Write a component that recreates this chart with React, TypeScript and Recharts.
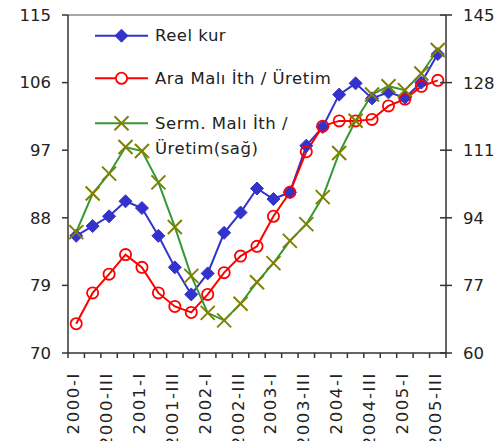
import React from 'react';
import { LineChart, Line, XAxis, YAxis, ReferenceLine } from 'recharts';

// Quarterly periods
const quarters = [
  '2000-I', '2000-II', '2000-III', '2000-IV',
  '2001-I', '2001-II', '2001-III', '2001-IV',
  '2002-I', '2002-II', '2002-III', '2002-IV',
  '2003-I', '2003-II', '2003-III', '2003-IV',
  '2004-I', '2004-II', '2004-III', '2004-IV',
  '2005-I', '2005-II', '2005-III',
];

// Series values (left axis)
const reelKur = [85.6, 86.9, 88.2, 90.2, 89.3, 85.6, 81.4, 77.8, 80.6, 86.0, 88.7, 91.9, 90.5, 91.4, 97.6, 100.1, 104.4, 105.9, 103.9, 104.7, 104.0, 106.0, 109.8];
const araMali = [73.9, 78.0, 80.5, 83.1, 81.4, 78.0, 76.2, 75.4, 77.8, 80.7, 82.9, 84.2, 88.2, 91.4, 96.8, 100.2, 100.9, 100.9, 101.1, 102.9, 103.8, 105.5, 106.3];
// Right axis series
const sermMali = [90.4, 100.1, 105.1, 111.8, 110.8, 102.9, 91.7, 79.4, 70.1, 68.2, 72.4, 77.8, 82.6, 88.2, 92.4, 99.2, 110.3, 118.4, 125.0, 127.1, 126.1, 130.3, 136.2];

const leftTicks = [70, 79, 88, 97, 106, 115];
const rightTicks = [60, 77, 94, 111, 128, 145];

const legendLabels = ['Reel kur', 'Ara Malı İth / Üretim', 'Serm. Malı İth /', 'Üretim(sağ)'];

const data = quarters.map((q, i) => ({
  q,
  reel: reelKur[i],
  ara: araMali[i],
  serm: sermMali[i],
}));

const FONT = '"DejaVu Sans", sans-serif';
const TEXT = '#222';
const AXIS = '#333';
const BLUE = '#3333CC';
const RED = '#FF0000';
const GREEN = '#339933';
const OLIVE = '#808000';

const X_TICK_SIZE = 5;
const X_TICK_MARGIN = 14;
const Y_TICK_SIZE = 6;
const Y_TICK_MARGIN = 11;

const Diamond = ({ cx, cy, s = 6.5 }: { cx: number; cy: number; s?: number }) => (
  <path d={`M${cx},${cy - s} L${cx + s},${cy} L${cx},${cy + s} L${cx - s},${cy} Z`} fill={BLUE} stroke={BLUE} strokeWidth={1} />
);

const Ring = ({ cx, cy }: { cx: number; cy: number }) => (
  <circle cx={cx} cy={cy} r={5.6} fill="none" stroke={RED} strokeWidth={1.8} />
);

const Cross = ({ cx, cy, s = 7 }: { cx: number; cy: number; s?: number }) => (
  <g stroke={OLIVE} strokeWidth={2}>
    <line x1={cx - s} y1={cy - s} x2={cx + s} y2={cy + s} />
    <line x1={cx - s} y1={cy + s} x2={cx + s} y2={cy - s} />
  </g>
);

const renderDiamond = (p: any) => <Diamond key={`d-${p.index}`} cx={p.cx} cy={p.cy} />;
const renderRing = (p: any) => <Ring key={`r-${p.index}`} cx={p.cx} cy={p.cy} />;
const renderCross = (p: any) => <Cross key={`c-${p.index}`} cx={p.cx} cy={p.cy} />;

const XTick = (props: any) => {
  const { x, y, payload, index } = props;
  const axisY = y - X_TICK_SIZE - X_TICK_MARGIN;
  const half = payload && typeof payload.offset === 'number' && payload.offset > 0 ? payload.offset : 378 / quarters.length / 2;
  const idx = typeof index === 'number' ? index : payload.index;
  return (
    <g>
      <line x1={x - half} y1={axisY} x2={x - half} y2={axisY + X_TICK_SIZE} stroke={AXIS} strokeWidth={1.5} />
      {idx === quarters.length - 1 && (
        <line x1={x + half} y1={axisY} x2={x + half} y2={axisY + X_TICK_SIZE} stroke={AXIS} strokeWidth={1.5} />
      )}
      {idx % 2 === 0 && (
        <text
          transform={`translate(${x + 3},${y}) rotate(-90)`}
          textAnchor="end"
          fontFamily={FONT}
          fontSize={16.5}
          letterSpacing={1.6}
          fill={TEXT}
        >
          {payload.value}
        </text>
      )}
    </g>
  );
};

const RightTick = (props: any) => {
  const { x, y, payload } = props;
  const axisX = x - Y_TICK_SIZE - Y_TICK_MARGIN;
  return (
    <g>
      <line x1={axisX - 6} y1={y} x2={axisX + 6} y2={y} stroke={AXIS} strokeWidth={1.5} />
      <text x={x} y={y} dy="0.36em" textAnchor="start" fontFamily={FONT} fontSize={16.5} fill={TEXT}>
        {payload.value}
      </text>
    </g>
  );
};

const LegendOverlay = () => {
  const rows = [35.7, 78.3, 123.3];
  return (
    <svg width={502} height={441} style={{ position: 'absolute', left: 0, top: 0, pointerEvents: 'none' }}>
      <g fontFamily={FONT} fontSize={16.5} fill={TEXT} letterSpacing={0.5}>
        <line x1={95} y1={rows[0]} x2={148} y2={rows[0]} stroke={BLUE} strokeWidth={2} />
        <Diamond cx={121.5} cy={rows[0]} />
        <text x={155} y={41}>{legendLabels[0]}</text>

        <line x1={95} y1={rows[1]} x2={148} y2={rows[1]} stroke={RED} strokeWidth={2} />
        <circle cx={121.5} cy={rows[1]} r={5.6} fill="#fff" stroke={RED} strokeWidth={1.8} />
        <text x={155} y={84.3}>{legendLabels[1]}</text>

        <line x1={95} y1={rows[2]} x2={148} y2={rows[2]} stroke={GREEN} strokeWidth={2} />
        <Cross cx={121.5} cy={rows[2]} />
        <text x={155} y={128.5}>{legendLabels[2]}</text>
        <text x={155} y={154}>{legendLabels[3]}</text>
      </g>
    </svg>
  );
};

export default function App() {
  return (
    <div style={{ position: 'absolute', left: 0, top: 0, width: 502, height: 441, background: '#fff' }}>
      <LineChart width={502} height={441} data={data} margin={{ top: 15, right: 0, bottom: 0, left: 0 }}>
        <XAxis
          dataKey="q"
          scale="band"
          interval={0}
          height={88}
          tickLine={false}
          tickSize={X_TICK_SIZE}
          tickMargin={X_TICK_MARGIN}
          axisLine={{ stroke: AXIS, strokeWidth: 1.5 }}
          tick={<XTick />}
        />
        <YAxis
          yAxisId="left"
          orientation="left"
          width={68}
          domain={[70, 115]}
          ticks={leftTicks}
          interval={0}
          tickSize={Y_TICK_SIZE}
          tickMargin={Y_TICK_MARGIN}
          tickLine={{ stroke: AXIS, strokeWidth: 1.5 }}
          axisLine={{ stroke: AXIS, strokeWidth: 1.5 }}
          tick={{ fontFamily: FONT, fontSize: 16.5, fill: TEXT }}
        />
        <YAxis
          yAxisId="right"
          orientation="right"
          width={56}
          domain={[60, 145]}
          ticks={rightTicks}
          interval={0}
          tickSize={Y_TICK_SIZE}
          tickMargin={Y_TICK_MARGIN}
          tickLine={false}
          axisLine={{ stroke: AXIS, strokeWidth: 1.5 }}
          tick={<RightTick />}
        />
        <ReferenceLine yAxisId="left" y={115} stroke="#888" strokeWidth={1.5} />
        <Line yAxisId="left" dataKey="reel" stroke={BLUE} strokeWidth={2} dot={renderDiamond} isAnimationActive={false} />
        <Line yAxisId="left" dataKey="ara" stroke={RED} strokeWidth={2} dot={renderRing} isAnimationActive={false} />
        <Line yAxisId="right" dataKey="serm" stroke={GREEN} strokeWidth={2} dot={renderCross} isAnimationActive={false} />
      </LineChart>
      <LegendOverlay />
    </div>
  );
}
